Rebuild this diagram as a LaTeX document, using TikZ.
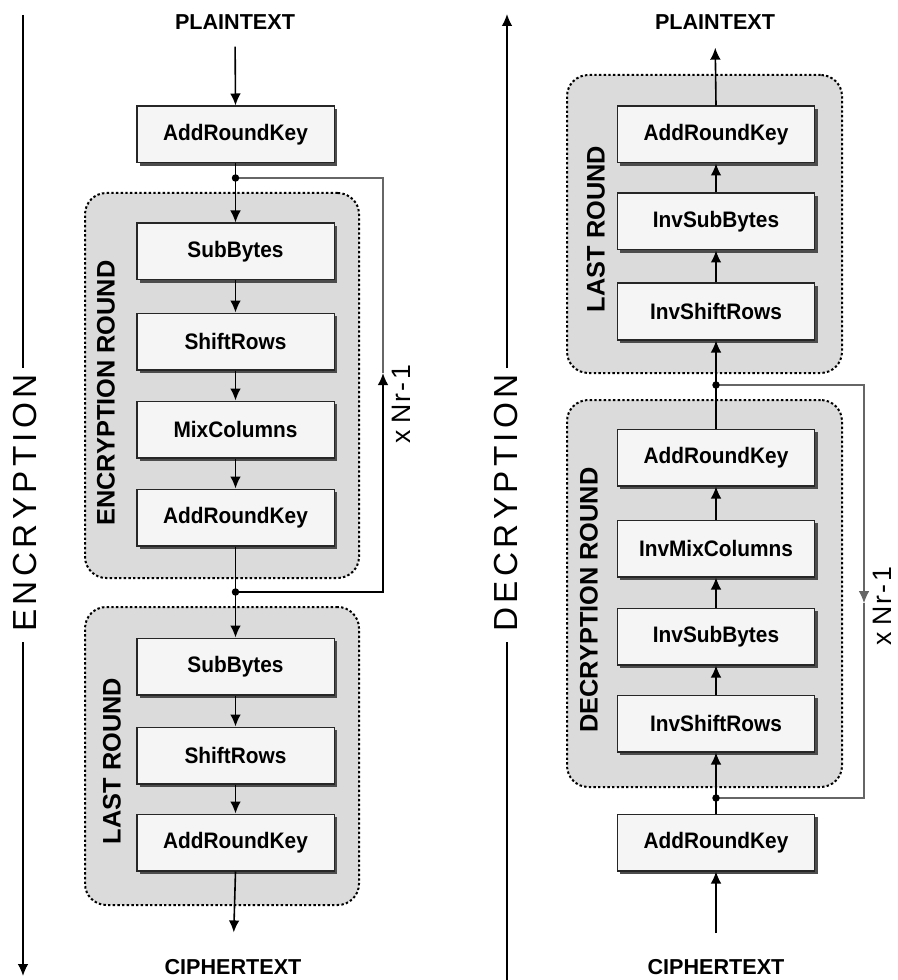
\documentclass[tikz,border=0pt]{standalone}
\usepackage{graphicx}
\usepackage{fontspec}
\setmainfont{Liberation Sans}
\usetikzlibrary{arrows.meta,shadows}
\newcommand{\bxt}[1]{\scalebox{0.93}[1]{#1}}
\begin{document}
\begin{tikzpicture}[x=0.75pt,y=-0.75pt,
  blk/.style={draw=black!85, line width=1pt, fill=black!4, minimum width=148pt, minimum height=42.5pt,
    inner sep=0pt, font=\bfseries\fontsize{16.8pt}{20pt}\selectfont,
    drop shadow={shadow xshift=2.3pt, shadow yshift=-2.3pt, fill=black!70, opacity=1}},
  grp/.style={draw=black, line width=1.5pt, dash pattern=on 1.8pt off 1.7pt, fill=black!14,
    rounded corners=16pt, inner sep=0pt},
  grplbl/.style={font=\bfseries\fontsize{19pt}{19pt}\selectfont, rotate=90, inner sep=0pt},
  iolbl/.style={font=\bfseries\fontsize{16.2pt}{16pt}\selectfont, inner sep=0pt},
  axlbl/.style={font=\fontsize{25pt}{25pt}\selectfont, rotate=90, inner sep=0pt},
  nrlbl/.style={font=\fontsize{20pt}{20pt}\selectfont, rotate=90, inner sep=0pt},
  tip/.style={-{Latex[length=9pt,width=8pt]}},
  arr/.style={line width=1.2pt, tip},
  ln/.style={line width=1.2pt},
  loopa/.style={line width=1.3pt, draw=black},
  loopb/.style={line width=0.8pt, draw=black!60},
  dot/.style={fill=black}
]
\useasboundingbox (0,0) rectangle (897,980);

% ---------------- axis lines ----------------
\node[axlbl] (enc) at (25,503) {E\kern3.2pt N\kern3.2pt C\kern3.2pt R\kern3.2pt Y\kern3.2pt P\kern3.2pt T\kern3.2pt I\kern3.2pt O\kern3.2pt N};
\coordinate (et) at (23,15);
\coordinate (em1) at (23,368);
\coordinate (em2) at (23,642);
\coordinate (eb) at (23,976);
\draw[ln] (et) -- (em1);
\draw[arr] (em2) -- (eb);

\node[axlbl] (dec) at (506,503) {D\kern3.2pt E\kern3.2pt C\kern3.2pt R\kern3.2pt Y\kern3.2pt P\kern3.2pt T\kern3.2pt I\kern3.2pt O\kern3.2pt N};
\coordinate (dt) at (507,14);
\coordinate (dm1) at (507,368);
\coordinate (dm2) at (507,642);
\coordinate (db) at (507,980);
\draw[arr] (dm1) -- (dt);
\draw[ln] (dm2) -- (db);

% ---------------- containers ----------------
\node[grp, minimum width=205.5pt, minimum height=288.75pt] (encr) at (222,385.5) {};
\node[grp, minimum width=205.5pt, minimum height=223.5pt] (elast) at (222,756) {};
\node[grp, minimum width=206.25pt, minimum height=223.5pt] (dlast) at (704.5,224) {};
\node[grp, minimum width=206.25pt, minimum height=290.25pt] (decr) at (704.5,593.5) {};

\node[grplbl] (encrl) at (106,393) {ENCRYPTION ROUND};
\node[grplbl] (elastl) at (112,761) {LAST ROUND};
\node[grplbl] (dlastl) at (596,229) {LAST ROUND};
\node[grplbl] (decrl) at (589,600) {DECRYPTION ROUND};

% ---------------- encryption column ----------------
\node[iolbl] (plain1) at (235,22) {PLAINTEXT};
\node[blk] (ark1) at (235.5,134.5) {\bxt{AddRoundKey}};
\node[blk] (sub1) at (235.5,251.5) {\bxt{SubBytes}};
\node[blk] (shr1) at (235.5,341.5) {\bxt{ShiftRows}};
\node[blk] (mix)  at (235.5,429.5) {\bxt{MixColumns}};
\node[blk] (ark2) at (235.5,517.5) {\bxt{AddRoundKey}};
\node[blk] (sub2) at (235.5,666.5) {\bxt{SubBytes}};
\node[blk] (shr2) at (235.5,755.5) {\bxt{ShiftRows}};
\node[blk] (ark3) at (235.5,842.5) {\bxt{AddRoundKey}};
\node[iolbl] (ciph1) at (233,967) {CIPHERTEXT};

\draw[arr, shorten <=12.75pt] (plain1.south) -- (ark1.north);
\draw[arr] (ark1) -- (sub1);
\draw[arr] (sub1) -- (shr1);
\draw[arr] (shr1) -- (mix);
\draw[arr] (mix) -- (ark2);
\draw[arr] (ark2) -- (sub2);
\draw[arr] (sub2) -- (shr2);
\draw[arr] (shr2) -- (ark3);
\draw[arr, shorten >=20pt] (ark3.south) -- (ciph1.north);

\coordinate (j1) at (235.5,178);
\coordinate (j2) at (235.5,592);
\coordinate (l1) at (383,178);
\coordinate (l2) at (383,592);
\coordinate (la) at (383,373);
\draw[loopa, tip] (j2) -- (l2) -- (la);
\draw[loopb] (la) -- (l1) -- (j1);
\fill[dot] (j1) circle[radius=2.8pt];
\fill[dot] (j2) circle[radius=2.8pt];
\node[nrlbl] (nr1) at (401,404) {x\kern5pt N\kern1.5pt r\kern1.5pt -\kern2pt 1};

% ---------------- decryption column ----------------
\node[iolbl] (plain2) at (715,22) {PLAINTEXT};
\node[blk] (dark1) at (716,134.5) {\bxt{AddRoundKey}};
\node[blk] (disb1) at (716,221.5) {\bxt{InvSubBytes}};
\node[blk] (disr1) at (716,311.5) {\bxt{InvShiftRows}};
\node[blk] (dark2) at (716,457.5) {\bxt{AddRoundKey}};
\node[blk] (dimc)  at (716,548.5) {\bxt{InvMixColumns}};
\node[blk] (disb2) at (716,636.5) {\bxt{InvSubBytes}};
\node[blk] (disr2) at (716,723.5) {\bxt{InvShiftRows}};
\node[blk] (dark3) at (716,842.5) {\bxt{AddRoundKey}};
\node[iolbl] (ciph2) at (716,967) {CIPHERTEXT};

\draw[arr, shorten <=19.5pt] (ciph2.north) -- (dark3.south);
\draw[arr] (dark3) -- (disr2);
\draw[arr] (disr2) -- (disb2);
\draw[arr] (disb2) -- (dimc);
\draw[arr] (dimc) -- (dark2);
\draw[arr] (dark2) -- (disr1);
\draw[arr] (disr1) -- (disb1);
\draw[arr] (disb1) -- (dark1);
\draw[arr, shorten >=13.5pt] (dark1.north) -- (plain2.south);

\coordinate (j3) at (716,385);
\coordinate (j4) at (716,798);
\coordinate (r1) at (864,385);
\coordinate (r2) at (864,798);
\coordinate (ra) at (864,603);
\draw[loopb, tip] (j3) -- (r1) -- (ra);
\draw[loopb] (ra) -- (r2) -- (j4);
\fill[dot] (j3) circle[radius=2.8pt];
\fill[dot] (j4) circle[radius=2.8pt];
\node[nrlbl] (nr2) at (882,606) {x\kern5pt N\kern1.5pt r\kern1.5pt -\kern2pt 1};
\end{tikzpicture}
\end{document}
